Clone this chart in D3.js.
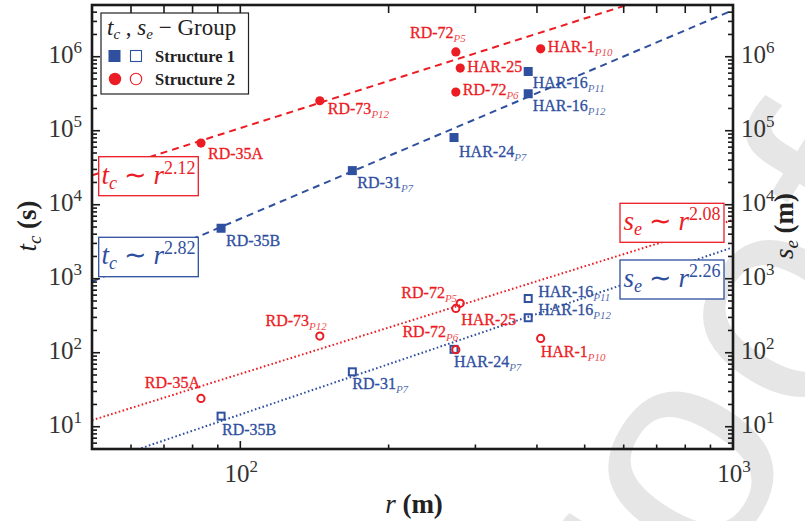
<!DOCTYPE html>
<html>
<head>
<meta charset="utf-8">
<script src="https://cdn.jsdelivr.net/npm/d3@7"></script>
<style>
  body { margin: 0; background: #fff; }
  svg { display: block; font-family: "Liberation Serif", "Times New Roman", serif; }
</style>
</head>
<body>
<svg id="chart" width="805" height="521"></svg>
<script>
// ---- data -------------------------------------------------------------
// Structure 1 (blue squares): t_c filled, s_e open
const s1Names = ["RD-35B", "RD-31", "HAR-24", "HAR-16", "HAR-16"];
const s1Subs  = ["", "P7", "P7", "P11", "P12"];
const s1R     = [91.4, 168.8, 271.5, 384, 384];
const s1Tc    = [4.81e3, 2.89e4, 8.09e4, 6.32e5, 3.16e5];
const s1Se    = [13.9, 55.2, 111, 540, 297];

// Structure 2 (red circles): t_c filled, s_e open
const s2Names = ["RD-35A", "RD-73", "RD-72", "HAR-25", "RD-72", "HAR-1"];
const s2Subs  = ["", "P12", "P5", "", "P6", "P10"];
const s2R     = [83.2, 145, 273.8, 279.5, 273.8, 407];
const s2Tc    = [6.8e4, 2.54e5, 1.16e6, 7.03e5, 3.33e5, 1.28e6];
const s2Se    = [24.1, 168, 397, 465, 110, 156];

// power-law fits  y = 10^logA * r^k
const fitNames    = ["tc1", "tc2", "se1", "se2"];
const fitExponent = [2.82, 2.12, 2.26, 2.08];
const fitLogA     = [-1.83, 0.795, -3.355, -2.446];

const xTicks = [100, 1000];
const yTicks = [1e1, 1e2, 1e3, 1e4, 1e5, 1e6];

// ---- layout -------------------------------------------------------------
const RED = "#ec1c24", BLUE = "#2f4f9f";
const plot = { left: 92, right: 733, top: 5, bottom: 449 };

// label placement relative to each mark: [dx, dy, anchor]
const s1TcLab = [[5, 18, "start"], [5, 17, "start"], [5, 19, "start"], [4.5, 16.5, "start"], [4.5, 17.7, "start"]];
const s1SeLab = [[1, 19, "start"], [0, 17, "start"], [0, 18, "start"], [10, -1.6, "start"], [10, -2.7, "start"]];
const s2TcLab = [[7, 16, "start"], [8, 13, "start"], [10, -14, "end"], [7, 3.5, "start"], [7, 3, "start"], [7, 3, "start"]];
const s2SeLab = [[-1, -10, "end"], [7, -10.3, "end"], [1.3, -10, "end"], [1, 22, "start"], [2.4, -12.6, "end"], [0, 19, "start"]];

const svg = d3.select("#chart");

const x = d3.scaleLog().domain([50, 1000]).range([plot.left, plot.right]);
const y = d3.scaleLog().domain([5, 5e6]).range([plot.bottom, plot.top]);

// faint diagonal watermark behind everything
svg.append("text")
  .attr("transform", "translate(560,830) rotate(-58)")
  .attr("font-family", "Liberation Sans, Arial, sans-serif")
  .attr("font-size", 300)
  .attr("letter-spacing", 12)
  .attr("fill", "#e6e6e6")
  .text("proof");

svg.append("defs").append("clipPath").attr("id", "plotClip")
  .append("rect")
  .attr("x", plot.left).attr("y", plot.top)
  .attr("width", plot.right - plot.left).attr("height", plot.bottom - plot.top);

// ---- fit lines -------------------------------------------------------------
const fitColor = [BLUE, RED, BLUE, RED];
const fitDash = ["7,5", "7,5", "1.6,2.4", "1.6,2.4"];
const line = d3.line().x(d => x(d[0])).y(d => y(d[1]));
const fits = svg.append("g").attr("clip-path", "url(#plotClip)");
fitNames.forEach((n, i) => {
  const pts = x.domain().map(r => [r, Math.pow(10, fitLogA[i]) * Math.pow(r, fitExponent[i])]);
  fits.append("path")
    .attr("d", line(pts))
    .attr("fill", "none")
    .attr("stroke", fitColor[i])
    .attr("stroke-width", 2)
    .attr("stroke-dasharray", fitDash[i]);
});

// ---- axes (ticks point inward) -------------------------------------------
const yMinor = [];
for (let e = 0; e <= 6; e++) for (let m = 1; m <= 9; m++) {
  const v = m * Math.pow(10, e);
  if (v >= 5 && v <= 5e6) yMinor.push(v);
}
const xMinor = [];
for (let e = 1; e <= 3; e++) for (let m = 1; m <= 9; m++) {
  const v = m * Math.pow(10, e);
  if (v >= 50 && v <= 1000) xMinor.push(v);
}
const isMajor = v => Math.abs(Math.log10(v) - Math.round(Math.log10(v))) < 1e-9;

const axisG = svg.append("g").attr("stroke", "#1a1a1a");
// left & right
yMinor.forEach(v => {
  const len = isMajor(v) ? 8 : 5;
  axisG.append("line").attr("x1", plot.left).attr("x2", plot.left + len)
    .attr("y1", y(v)).attr("y2", y(v)).attr("stroke-width", 1.6);
  axisG.append("line").attr("x1", plot.right).attr("x2", plot.right - len)
    .attr("y1", y(v)).attr("y2", y(v)).attr("stroke-width", 1.6);
});
// bottom & top
xMinor.forEach(v => {
  const lenB = isMajor(v) ? 8 : 4.5;
  axisG.append("line").attr("x1", x(v)).attr("x2", x(v))
    .attr("y1", plot.bottom).attr("y2", plot.bottom - lenB).attr("stroke-width", 1.6);
  axisG.append("line").attr("x1", x(v)).attr("x2", x(v))
    .attr("y1", plot.top).attr("y2", plot.top + 8).attr("stroke-width", 1.6);
});
svg.append("rect")
  .attr("x", plot.left).attr("y", plot.top)
  .attr("width", plot.right - plot.left).attr("height", plot.bottom - plot.top)
  .attr("fill", "none").attr("stroke", "#1a1a1a").attr("stroke-width", 2.6);

// tick labels: 10^n
function powLabel(g, px, py, v, anchor) {
  const t = g.append("text").attr("x", px).attr("y", py)
    .attr("font-size", 25).attr("fill", "#333").attr("text-anchor", anchor);
  t.append("tspan").text("10");
  t.append("tspan").attr("dy", -10).attr("font-size", 17).text(Math.round(Math.log10(v)));
}
const labG = svg.append("g");
yTicks.forEach(v => {
  powLabel(labG, plot.left - 10, y(v) + 6, v, "end");
  powLabel(labG, plot.right + 8, y(v) + 6, v, "start");
});
xTicks.forEach(v => powLabel(labG, x(v) + 1, 482, v, "middle"));

// axis titles
function mathTitle(g, transform, sym, sub, unit) {
  const t = g.append("text").attr("transform", transform)
    .attr("text-anchor", "middle").attr("font-size", 27).attr("fill", "#222");
  t.append("tspan").attr("font-style", "italic").text(sym);
  if (sub) t.append("tspan").attr("font-style", "italic").attr("font-size", 19).attr("dy", 5).text(sub);
  t.append("tspan").attr("dy", sub ? -5 : 0).attr("font-weight", "bold").text("\u00a0(" + unit + ")");
}
mathTitle(labG, "translate(36,226) rotate(-90)", "t", "c", "s");
mathTitle(labG, "translate(793,226) rotate(-90)", "s", "e", "m");
mathTitle(labG, "translate(414,513)", "r", null, "m");

// ---- marks -------------------------------------------------------------
const marks = svg.append("g");
function addLabel(px, py, off, name, sub, color) {
  const t = marks.append("text")
    .attr("x", px + off[0]).attr("y", py + off[1])
    .attr("text-anchor", off[2])
    .attr("font-size", 16).attr("fill", color)
    .attr("stroke", color).attr("stroke-width", 0.3);
  t.append("tspan").text(name);
  if (sub) t.append("tspan").attr("font-style", "italic").attr("font-size", 11)
    .attr("dy", 4).attr("fill-opacity", 0.85).attr("stroke-width", 0).text(sub);
}

// Structure 1: squares
s1R.forEach((r, i) => {
  marks.append("rect").attr("x", x(r) - 4.5).attr("y", y(s1Tc[i]) - 4.5)
    .attr("width", 9).attr("height", 9).attr("fill", BLUE);
  marks.append("rect").attr("x", x(r) - 3.5).attr("y", y(s1Se[i]) - 3.5)
    .attr("width", 7).attr("height", 7).attr("fill", "none")
    .attr("stroke", BLUE).attr("stroke-width", 2);
  addLabel(x(r), y(s1Tc[i]), s1TcLab[i], s1Names[i], s1Subs[i], BLUE);
  addLabel(x(r), y(s1Se[i]), s1SeLab[i], s1Names[i], s1Subs[i], BLUE);
});
// Structure 2: circles
s2R.forEach((r, i) => {
  marks.append("circle").attr("cx", x(r)).attr("cy", y(s2Tc[i])).attr("r", 4.6).attr("fill", RED);
  marks.append("circle").attr("cx", x(r)).attr("cy", y(s2Se[i])).attr("r", 3.6)
    .attr("fill", "none").attr("stroke", RED).attr("stroke-width", 2);
  addLabel(x(r), y(s2Tc[i]), s2TcLab[i], s2Names[i], s2Subs[i], RED);
  addLabel(x(r), y(s2Se[i]), s2SeLab[i], s2Names[i], s2Subs[i], RED);
});

// ---- fit annotations -------------------------------------------------------
const boxes = [
  { x0: 98.7, y0: 156.7, w: 99.6, h: 39, sym: "t", sub: "c", k: fitExponent[1], color: RED },
  { x0: 98.7, y0: 237.3, w: 99.6, h: 39.4, sym: "t", sub: "c", k: fitExponent[0], color: BLUE },
  { x0: 620, y0: 203.3, w: 104, h: 39, sym: "s", sub: "e", k: fitExponent[3], color: RED },
  { x0: 620, y0: 260, w: 104, h: 39, sym: "s", sub: "e", k: fitExponent[2], color: BLUE }
];
boxes.forEach(b => {
  const g = svg.append("g");
  g.append("rect").attr("x", b.x0).attr("y", b.y0).attr("width", b.w).attr("height", b.h)
    .attr("fill", "#fff").attr("stroke", b.color).attr("stroke-width", 1.3);
  const t = g.append("text").attr("x", b.x0 + b.w / 2).attr("y", b.y0 + 27)
    .attr("text-anchor", "middle").attr("font-size", 27).attr("fill", b.color);
  t.append("tspan").attr("font-style", "italic").text(b.sym);
  t.append("tspan").attr("font-style", "italic").attr("font-size", 18).attr("dy", 5).text(b.sub);
  t.append("tspan").attr("dy", -5).text(" \u223c ");
  t.append("tspan").attr("font-style", "italic").text("r");
  t.append("tspan").attr("font-size", 18).attr("dy", -10).text(b.k.toFixed(2));
});

// ---- legend -------------------------------------------------------------
const lg = svg.append("g");
lg.append("rect").attr("x", 101).attr("y", 13).attr("width", 147.5).attr("height", 81)
  .attr("fill", "#fff").attr("stroke", "#222").attr("stroke-width", 1.2);
const lt = lg.append("text").attr("x", 107).attr("y", 35).attr("font-size", 23).attr("fill", "#222");
lt.append("tspan").attr("font-style", "italic").text("t");
lt.append("tspan").attr("font-style", "italic").attr("font-size", 15).attr("dy", 4).text("c");
lt.append("tspan").attr("dy", -4).text(" , ");
lt.append("tspan").attr("font-style", "italic").text("s");
lt.append("tspan").attr("font-style", "italic").attr("font-size", 15).attr("dy", 4).text("e");
lt.append("tspan").attr("dy", -4).text(" \u2212 Group");

lg.append("rect").attr("x", 108.5).attr("y", 50).attr("width", 12).attr("height", 12).attr("fill", BLUE);
lg.append("rect").attr("x", 130.5).attr("y", 50.5).attr("width", 11).attr("height", 11)
  .attr("fill", "none").attr("stroke", BLUE).attr("stroke-width", 1.1);
lg.append("circle").attr("cx", 115).attr("cy", 79).attr("r", 6.2).attr("fill", RED);
lg.append("circle").attr("cx", 136).attr("cy", 79).attr("r", 5.7)
  .attr("fill", "none").attr("stroke", RED).attr("stroke-width", 1.1);
lg.append("text").attr("x", 155).attr("y", 62.3).attr("font-size", 16.5).attr("font-weight", "bold")
  .attr("fill", "#222").text("Structure 1");
lg.append("text").attr("x", 155).attr("y", 84.5).attr("font-size", 16.5).attr("font-weight", "bold")
  .attr("fill", "#222").text("Structure 2");
</script>
</body>
</html>
